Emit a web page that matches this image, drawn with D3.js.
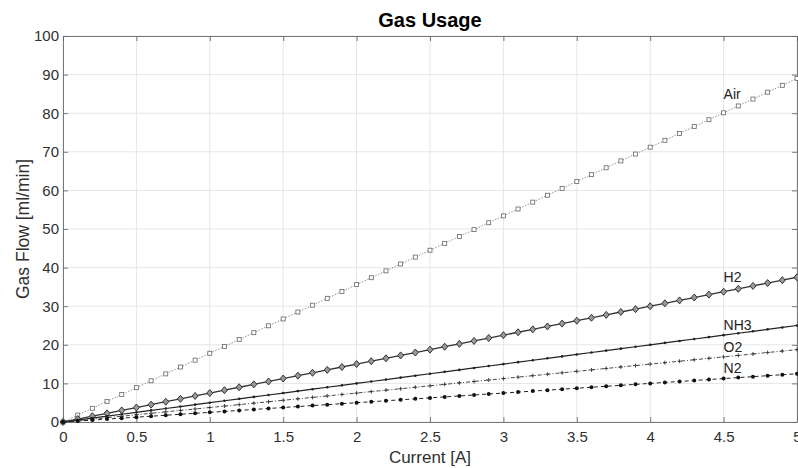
<!DOCTYPE html>
<html>
<head>
<meta charset="utf-8">
<script src="https://cdn.jsdelivr.net/npm/d3@7"></script>
<style>
  body { margin: 0; background: #fff; }
  svg { font-family: "Liberation Sans", Arial, sans-serif; }
</style>
</head>
<body>
<div id="chart"></div>
<script>
// current in A, sampled every 0.1
let current = [0, 0.1, 0.2, 0.3, 0.4, 0.5, 0.6, 0.7, 0.8, 0.9, 1.0, 1.1, 1.2, 1.3, 1.4, 1.5, 1.6, 1.7, 1.8, 1.9,
  2.0, 2.1, 2.2, 2.3, 2.4, 2.5, 2.6, 2.7, 2.8, 2.9, 3.0, 3.1, 3.2, 3.3, 3.4, 3.5, 3.6, 3.7, 3.8, 3.9,
  4.0, 4.1, 4.2, 4.3, 4.4, 4.5, 4.6, 4.7, 4.8, 4.9, 5.0];

let air = [0, 1.78, 3.56, 5.34, 7.12, 8.9, 10.68, 12.46, 14.24, 16.02, 17.8, 19.58, 21.36, 23.14, 24.92, 26.7,
  28.48, 30.26, 32.04, 33.82, 35.6, 37.38, 39.16, 40.94, 42.72, 44.5, 46.28, 48.06, 49.84, 51.62, 53.4, 55.18,
  56.96, 58.74, 60.52, 62.3, 64.08, 65.86, 67.64, 69.42, 71.2, 72.98, 74.76, 76.54, 78.32, 80.1, 81.88, 83.66,
  85.44, 87.22, 89.0];
let h2 = [0, 0.75, 1.5, 2.25, 3, 3.75, 4.5, 5.25, 6, 6.75, 7.5, 8.25, 9, 9.75, 10.5, 11.25, 12, 12.75, 13.5,
  14.25, 15, 15.75, 16.5, 17.25, 18, 18.75, 19.5, 20.25, 21, 21.75, 22.5, 23.25, 24, 24.75, 25.5, 26.25, 27,
  27.75, 28.5, 29.25, 30, 30.75, 31.5, 32.25, 33, 33.75, 34.5, 35.25, 36, 36.75, 37.5];
let nh3 = [0, 0.5, 1, 1.5, 2, 2.5, 3, 3.5, 4, 4.5, 5, 5.5, 6, 6.5, 7, 7.5, 8, 8.5, 9, 9.5, 10, 10.5, 11, 11.5,
  12, 12.5, 13, 13.5, 14, 14.5, 15, 15.5, 16, 16.5, 17, 17.5, 18, 18.5, 19, 19.5, 20, 20.5, 21, 21.5, 22, 22.5,
  23, 23.5, 24, 24.5, 25];
let o2 = [0, 0.375, 0.75, 1.125, 1.5, 1.875, 2.25, 2.625, 3, 3.375, 3.75, 4.125, 4.5, 4.875, 5.25, 5.625, 6,
  6.375, 6.75, 7.125, 7.5, 7.875, 8.25, 8.625, 9, 9.375, 9.75, 10.125, 10.5, 10.875, 11.25, 11.625, 12, 12.375,
  12.75, 13.125, 13.5, 13.875, 14.25, 14.625, 15, 15.375, 15.75, 16.125, 16.5, 16.875, 17.25, 17.625, 18,
  18.375, 18.75];
let n2 = [0, 0.25, 0.5, 0.75, 1, 1.25, 1.5, 1.75, 2, 2.25, 2.5, 2.75, 3, 3.25, 3.5, 3.75, 4, 4.25, 4.5, 4.75,
  5, 5.25, 5.5, 5.75, 6, 6.25, 6.5, 6.75, 7, 7.25, 7.5, 7.75, 8, 8.25, 8.5, 8.75, 9, 9.25, 9.5, 9.75, 10,
  10.25, 10.5, 10.75, 11, 11.25, 11.5, 11.75, 12, 12.25, 12.5];

let xTicks = [0, 0.5, 1, 1.5, 2, 2.5, 3, 3.5, 4, 4.5, 5];
let yTicks = [0, 10, 20, 30, 40, 50, 60, 70, 80, 90, 100];

// label anchor: current value where the name sits
let labelAt = 4.5;

let series = [
  {name: "Air", values: air, dash: "1.5,1.5", color: "#777", width: 0.8, marker: "square", labelDy: -14},
  {name: "H2", values: h2, dash: null, color: "#333", width: 1.3, marker: "diamond", labelDy: -10},
  {name: "NH3", values: nh3, dash: null, color: "#222", width: 1.2, marker: "point", labelDy: -5},
  {name: "O2", values: o2, dash: "4,2,1,2", color: "#333", width: 0.9, marker: "plus", labelDy: -5},
  {name: "N2", values: n2, dash: "4,3", color: "#222", width: 1.0, marker: "dot", labelDy: -5.5}
];

let w = 798, h = 468;
let margin = {top: 36, right: 1, bottom: 46, left: 63};
let width = w - margin.left - margin.right;
let height = h - margin.top - margin.bottom;

let x = d3.scaleLinear().domain([0, 5]).range([0, width]);
let y = d3.scaleLinear().domain([0, 100]).range([height, 0]);

let svg = d3.select("#chart").append("svg")
  .attr("width", w)
  .attr("height", h);
const g = svg.append("g").attr("transform", `translate(${margin.left}, ${margin.top})`);

// grid
g.append("g").selectAll("line")
  .data(xTicks)
  .enter().append("line")
  .attr("x1", d => x(d)).attr("x2", d => x(d))
  .attr("y1", 0).attr("y2", height)
  .style("stroke", "#e6e6e6");
g.append("g").selectAll("line")
  .data(yTicks)
  .enter().append("line")
  .attr("x1", 0).attr("x2", width)
  .attr("y1", d => y(d)).attr("y2", d => y(d))
  .style("stroke", "#e6e6e6");

// axes (ticks inside, MATLAB style)
let axisStyle = function(sel) {
  sel.select(".domain").attr("stroke", "#6a6a6a").attr("stroke-width", 0.9);
  sel.selectAll(".tick line").attr("stroke", "#6a6a6a").attr("stroke-width", 0.9);
  sel.selectAll(".tick text").attr("fill", "#303030").style("font-size", "15px");
};

g.append("g")
  .attr("transform", `translate(0, ${height})`)
  .call(d3.axisBottom(x).tickValues(xTicks).tickSize(-5).tickSizeOuter(0).tickPadding(9).tickFormat(d3.format("")))
  .call(axisStyle);
g.append("g")
  .call(d3.axisLeft(y).tickValues(yTicks).tickSize(-5).tickSizeOuter(0).tickPadding(4))
  .call(axisStyle);
g.append("g")
  .call(d3.axisTop(x).tickValues(xTicks).tickSize(-5).tickSizeOuter(0).tickFormat(""))
  .call(axisStyle);
g.append("g")
  .attr("transform", `translate(${width}, 0)`)
  .call(d3.axisRight(y).tickValues(yTicks).tickSize(-5).tickSizeOuter(0).tickFormat(""))
  .call(axisStyle);

// lines and markers
let line = d3.line()
  .x((d, i) => x(current[i]))
  .y(d => y(d));

series.forEach(function(s) {
  g.append("path")
    .datum(s.values)
    .attr("fill", "none")
    .attr("stroke", s.color)
    .attr("stroke-width", s.width)
    .attr("stroke-dasharray", s.dash)
    .attr("d", line);

  let pts = s.values.map((v, i) => [x(current[i]), y(v)]);
  let mg = g.append("g");
  if (s.marker === "square") {
    mg.selectAll("rect").data(pts).enter().append("rect")
      .attr("x", d => d[0] - 2).attr("y", d => d[1] - 2)
      .attr("width", 4).attr("height", 4)
      .attr("fill", "#fff").attr("stroke", "#666").attr("stroke-width", 0.8);
  } else if (s.marker === "diamond") {
    mg.selectAll("path").data(pts).enter().append("path")
      .attr("d", d => `M${d[0]},${d[1] - 3.5}L${d[0] + 3},${d[1]}L${d[0]},${d[1] + 3.5}L${d[0] - 3},${d[1]}Z`)
      .attr("fill", "#999").attr("stroke", "#333").attr("stroke-width", 1);
  } else if (s.marker === "point") {
    mg.selectAll("circle").data(pts).enter().append("circle")
      .attr("cx", d => d[0]).attr("cy", d => d[1]).attr("r", 1.3)
      .attr("fill", "#222");
  } else if (s.marker === "plus") {
    mg.selectAll("path").data(pts).enter().append("path")
      .attr("d", d => `M${d[0] - 2},${d[1]}H${d[0] + 2}M${d[0]},${d[1] - 2}V${d[1] + 2}`)
      .attr("stroke", "#333").attr("stroke-width", 0.9);
  } else if (s.marker === "dot") {
    mg.selectAll("circle").data(pts).enter().append("circle")
      .attr("cx", d => d[0]).attr("cy", d => d[1]).attr("r", 2)
      .attr("fill", "#111");
  }

  // series name
  let idx = current.indexOf(labelAt);
  g.append("text")
    .attr("x", x(labelAt))
    .attr("y", y(s.values[idx]) + s.labelDy)
    .style("font-size", "14px")
    .attr("fill", "#222")
    .text(s.name);
});

// title and axis labels
svg.append("text")
  .attr("x", margin.left + width / 2)
  .attr("y", 27)
  .attr("text-anchor", "middle")
  .style("font-size", "20px")
  .style("font-weight", "bold")
  .attr("fill", "#000")
  .text("Gas Usage");

svg.append("text")
  .attr("x", margin.left + width / 2)
  .attr("y", 463)
  .attr("text-anchor", "middle")
  .style("font-size", "17px")
  .attr("fill", "#303030")
  .text("Current [A]");

svg.append("text")
  .attr("transform", `translate(29, ${margin.top + height / 2}) rotate(-90)`)
  .attr("text-anchor", "middle")
  .style("font-size", "17.5px")
  .attr("fill", "#303030")
  .text("Gas Flow [ml/min]");
</script>
</body>
</html>
